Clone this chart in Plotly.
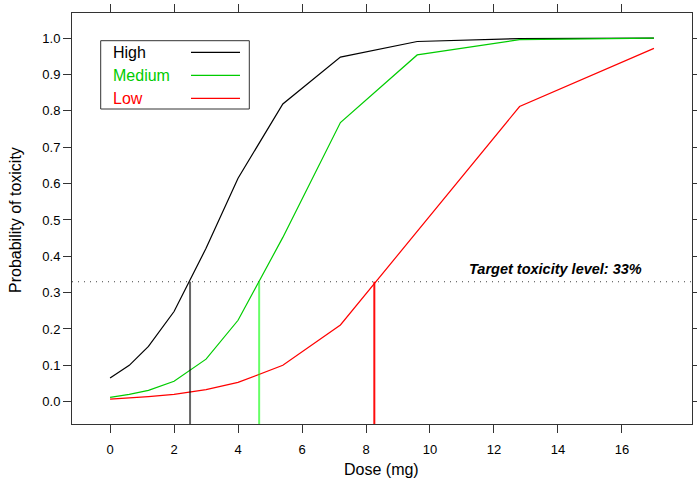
import plotly.graph_objects as go

dose = [0, 0.6, 1.2, 2, 3, 4, 5.4, 7.2, 9.6, 12.8, 17]
p_high = [0.065, 0.10, 0.152, 0.248, 0.422, 0.615, 0.819, 0.948, 0.991, 0.999, 1.0]
p_medium = [0.012, 0.020, 0.031, 0.056, 0.117, 0.224, 0.452, 0.768, 0.954, 0.996, 1.0]
p_low = [0.007, 0.010, 0.014, 0.020, 0.033, 0.053, 0.100, 0.211, 0.468, 0.812, 0.972]
series_names = ["High", "Medium", "Low"]
target_level = 0.33
target_doses = [2.50, 4.66, 8.26]
x_ticks = [0, 2, 4, 6, 8, 10, 12, 14, 16]
y_ticks = [0.0, 0.1, 0.2, 0.3, 0.4, 0.5, 0.6, 0.7, 0.8, 0.9, 1.0]

curve_colors = ["#000000", "#00CC00", "#FF0000"]
vline_colors = ["rgba(0,0,0,0.6)", "rgba(0,255,0,0.6)", "rgba(255,0,0,0.95)"]

x_range = [-1.19, 18.19]
y_range = [-0.0614, 1.0694]

FONT = "Liberation Sans, Arial, Helvetica, sans-serif"

L, R, T, B = 72, 5, 13, 56
W, H = 697, 480
pw, ph = W - L - R, H - T - B


def px_x(v):
    return (v - L) / pw


def px_y(v):
    return (H - B - v) / ph


fig = go.Figure()
for name, ys, c in zip(series_names, [p_high, p_medium, p_low], curve_colors):
    fig.add_trace(go.Scatter(x=dose, y=ys, mode="lines", name=name,
                             line=dict(color=c, width=1.2), showlegend=False))

for d, c in zip(target_doses, vline_colors):
    fig.add_trace(go.Scatter(x=[d, d], y=[y_range[0], target_level], mode="lines",
                             line=dict(color=c, width=2), showlegend=False,
                             hoverinfo="skip"))

fig.add_shape(type="line", xref="paper", x0=0, x1=1, yref="y",
              y0=target_level, y1=target_level,
              line=dict(color="#444444", width=1, dash="1px,5px"))

fig.add_annotation(x=16.69, y=0.366, xref="x", yref="y", xanchor="right",
                   yanchor="middle", showarrow=False,
                   text="<b><i>Target toxicity level: 33%</i></b>",
                   font=dict(family=FONT, size=14.5, color="black"))

# Legend (text left, line sample right)
fig.add_shape(type="rect", xref="paper", yref="paper",
              x0=px_x(100.7), x1=px_x(249.3), y0=px_y(109), y1=px_y(40.7),
              line=dict(color="#333333", width=1), fillcolor="white")
row_px = [52.3, 75.3, 98.3]
for name, c, ry in zip(series_names, curve_colors, row_px):
    fig.add_annotation(x=px_x(110.7), y=px_y(ry), xref="paper", yref="paper",
                       xanchor="left", yanchor="middle", showarrow=False,
                       text=name, font=dict(family=FONT, size=16, color=c))
    fig.add_shape(type="line", xref="paper", yref="paper",
                  x0=px_x(191), x1=px_x(240), y0=px_y(ry), y1=px_y(ry),
                  line=dict(color=c, width=1.2))

# Axis titles
fig.add_annotation(x=px_x(381), y=px_y(469), xref="paper", yref="paper",
                   xanchor="center", yanchor="middle", showarrow=False,
                   text="Dose (mg)",
                   font=dict(family=FONT, size=16, color="black"))
fig.add_annotation(x=px_x(16), y=px_y(220), xref="paper", yref="paper",
                   xanchor="center", yanchor="middle", showarrow=False,
                   text="Probability of toxicity", textangle=-90,
                   font=dict(family=FONT, size=16, color="black"))

axis_common = dict(showline=True, linecolor="#333333", linewidth=1,
                   mirror="ticks", ticks="outside", ticklen=8, tickwidth=1,
                   tickcolor="#333333", showgrid=False, zeroline=False,
                   automargin=False,
                   tickfont=dict(family=FONT, size=13, color="black"))

fig.update_xaxes(range=x_range, tickvals=x_ticks, ticklabelstandoff=5, **axis_common)
fig.update_yaxes(range=y_range, tickvals=y_ticks, tickformat=".1f", **axis_common)

fig.update_layout(width=W, height=H, plot_bgcolor="white",
                  paper_bgcolor="white",
                  margin=dict(l=L, r=R, t=T, b=B),
                  font=dict(family=FONT))

fig.write_html("out.html", config={"displayModeBar": False},
               post_script="document.body.style.margin='0';document.body.style.overflow='hidden';")
